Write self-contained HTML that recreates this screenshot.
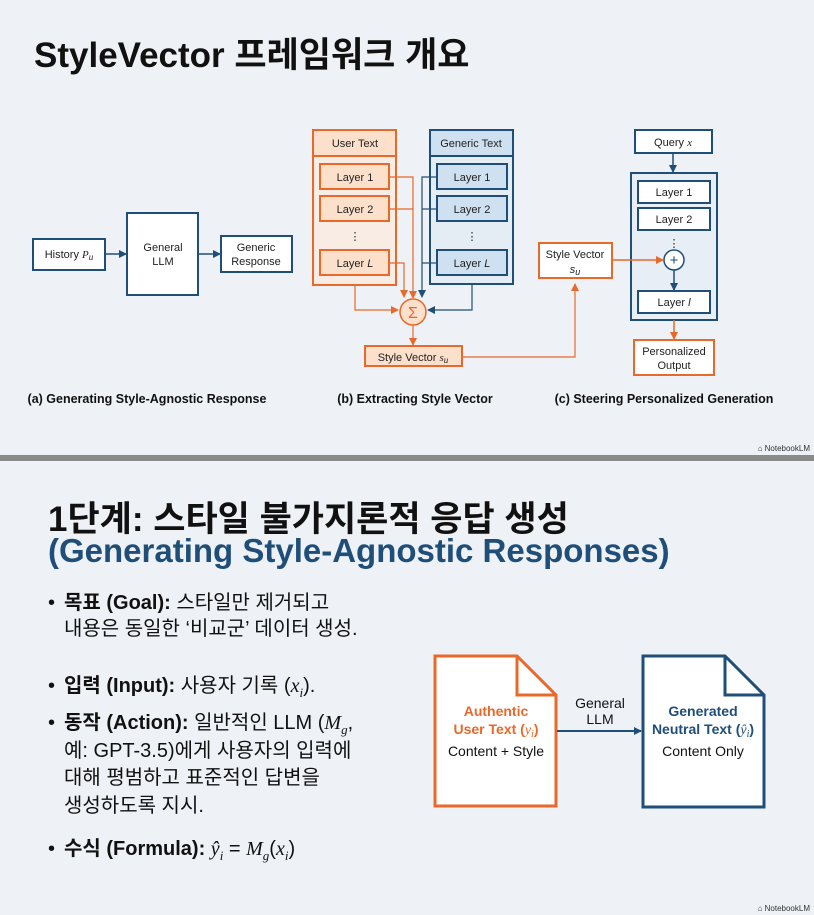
<!DOCTYPE html>
<html><head><meta charset="utf-8"><style>
body{margin:0;width:814px;height:915px;background:#eef2f6;overflow:hidden;font-family:"Liberation Sans","Noto Sans CJK KR",sans-serif;position:relative}
.t{position:absolute;white-space:nowrap}
svg text{font-family:"Liberation Sans","Noto Sans CJK KR",sans-serif}
i{font-family:"Liberation Serif",serif}
sub{line-height:0;font-size:0.65em}
.b{position:absolute;white-space:nowrap;padding-left:16px}
.b:before{content:"•";position:absolute;left:0}
</style></head><body>
<div class="t" style="left:34px;top:27px;font-size:35px;font-weight:bold;color:#111">StyleVector 프레임워크 개요</div>
<svg width="814" height="915" style="position:absolute;left:0;top:0">
<defs>
<marker id="ab" markerWidth="8" markerHeight="8" refX="7" refY="4" orient="auto" markerUnits="userSpaceOnUse"><path d="M0,0L8,4L0,8z" fill="#1f4e79"/></marker>
<marker id="ao" markerWidth="8" markerHeight="8" refX="7" refY="4" orient="auto" markerUnits="userSpaceOnUse"><path d="M0,0L8,4L0,8z" fill="#e8692a"/></marker>
</defs>
<g font-size="11" fill="#222" text-anchor="middle">
<rect x="33" y="239" width="72" height="31" fill="#fff" stroke="#1f4e79" stroke-width="2"/>
<text x="69" y="258">History <tspan font-style="italic" font-family="Liberation Serif">P<tspan font-size="9" dy="2">u</tspan></tspan></text>
<line x1="105" y1="254" x2="126" y2="254" stroke="#1f4e79" stroke-width="1.5" marker-end="url(#ab)"/>
<rect x="127" y="213" width="71" height="82" fill="#fff" stroke="#1f4e79" stroke-width="2"/>
<text x="163" y="251">General</text><text x="163" y="265">LLM</text>
<line x1="198" y1="254" x2="220" y2="254" stroke="#1f4e79" stroke-width="1.5" marker-end="url(#ab)"/>
<rect x="221" y="236" width="71" height="36" fill="#fff" stroke="#1f4e79" stroke-width="2"/>
<text x="256" y="251">Generic</text><text x="256" y="265">Response</text>
<rect x="313" y="130" width="83" height="155" fill="#f8ece4" stroke="#e8692a" stroke-width="2"/>
<rect x="313" y="130" width="83" height="26" fill="#fde0cc" stroke="#e8692a" stroke-width="2"/>
<text x="355" y="147">User Text</text>
<rect x="320" y="164" width="69" height="25" fill="#fde0cc" stroke="#e8692a" stroke-width="2"/><text x="355" y="181">Layer 1</text>
<rect x="320" y="196" width="69" height="25" fill="#fde0cc" stroke="#e8692a" stroke-width="2"/><text x="355" y="213">Layer 2</text>
<text x="355" y="240">⋮</text>
<rect x="320" y="250" width="69" height="25" fill="#fde0cc" stroke="#e8692a" stroke-width="2"/><text x="355" y="267">Layer <tspan font-style="italic">L</tspan></text>
<rect x="430" y="130" width="83" height="154" fill="#e4ecf4" stroke="#1f4e79" stroke-width="2"/>
<rect x="430" y="130" width="83" height="26" fill="#cfe0f0" stroke="#1f4e79" stroke-width="2"/>
<text x="471" y="147">Generic Text</text>
<rect x="437" y="164" width="70" height="25" fill="#cfe0f0" stroke="#1f4e79" stroke-width="2"/><text x="472" y="181">Layer 1</text>
<rect x="437" y="196" width="70" height="25" fill="#cfe0f0" stroke="#1f4e79" stroke-width="2"/><text x="472" y="213">Layer 2</text>
<text x="472" y="240">⋮</text>
<rect x="437" y="250" width="70" height="25" fill="#cfe0f0" stroke="#1f4e79" stroke-width="2"/><text x="472" y="267">Layer <tspan font-style="italic">L</tspan></text>
<g fill="none" stroke="#e8692a" stroke-width="1.2">
<path d="M389,177H413V298" marker-end="url(#ao)"/>
<path d="M389,209H413"/>
<path d="M389,263H404V297" marker-end="url(#ao)"/>
<path d="M355,285V310H398" marker-end="url(#ao)"/>
<path d="M413,325V345" marker-end="url(#ao)"/>
<path d="M462,357H575V284" marker-end="url(#ao)"/>
</g>
<g fill="none" stroke="#1f4e79" stroke-width="1.2">
<path d="M437,177H422V297" marker-end="url(#ab)"/>
<path d="M437,209H422"/><path d="M437,263H422"/>
<path d="M472,284V310H428" marker-end="url(#ab)"/>
</g>
<circle cx="413" cy="312" r="13" fill="#fde0cc" stroke="#e8692a" stroke-width="1.5"/>
<text x="413" y="318" font-size="16" fill="#e8692a">Σ</text>
<rect x="365" y="346" width="97" height="20" fill="#fde0cc" stroke="#e8692a" stroke-width="2"/>
<text x="413" y="361">Style Vector <tspan font-style="italic" font-family="Liberation Serif">s<tspan font-size="9" dy="2">u</tspan></tspan></text>
<rect x="635" y="130" width="77" height="23" fill="#fff" stroke="#1f4e79" stroke-width="2"/>
<text x="673" y="146">Query <tspan font-style="italic" font-family="Liberation Serif">x</tspan></text>
<line x1="673" y1="153" x2="673" y2="172" stroke="#1f4e79" stroke-width="1.5" marker-end="url(#ab)"/>
<rect x="631" y="173" width="86" height="147" fill="#e8eef5" stroke="#1f4e79" stroke-width="2"/>
<rect x="638" y="181" width="72" height="22" fill="#fff" stroke="#1f4e79" stroke-width="2"/><text x="674" y="196">Layer 1</text>
<rect x="638" y="208" width="72" height="22" fill="#fff" stroke="#1f4e79" stroke-width="2"/><text x="674" y="223">Layer 2</text>
<text x="674" y="247">⋮</text>
<circle cx="674" cy="260" r="10" fill="#fff" stroke="#1f4e79" stroke-width="1.5"/>
<text x="674" y="265" font-size="15" fill="#1f4e79">+</text>
<line x1="674" y1="270" x2="674" y2="290" stroke="#1f4e79" stroke-width="1.5" marker-end="url(#ab)"/>
<rect x="638" y="291" width="72" height="22" fill="#fff" stroke="#1f4e79" stroke-width="2"/><text x="674" y="306">Layer <tspan font-style="italic">l</tspan></text>
<rect x="539" y="243" width="73" height="35" fill="#fff" stroke="#e8692a" stroke-width="2"/>
<text x="575" y="258">Style Vector</text>
<text x="575" y="273" font-style="italic" font-family="Liberation Serif">s<tspan font-size="9" dy="2">u</tspan></text>
<line x1="612" y1="260" x2="663" y2="260" stroke="#e8692a" stroke-width="1.5" marker-end="url(#ao)"/>
<line x1="674" y1="320" x2="674" y2="339" stroke="#e8692a" stroke-width="1.5" marker-end="url(#ao)"/>
<rect x="634" y="340" width="80" height="35" fill="#fff" stroke="#e8692a" stroke-width="2"/>
<text x="674" y="355">Personalized</text><text x="674" y="369">Output</text>
</g>
<g font-size="12.5" font-weight="bold" fill="#111" text-anchor="middle">
<text x="147" y="403">(a) Generating Style-Agnostic Response</text>
<text x="415" y="403">(b) Extracting Style Vector</text>
<text x="664" y="403">(c) Steering Personalized Generation</text>
</g>
<text x="810" y="451" font-size="8" fill="#333" text-anchor="end">⌂ NotebookLM</text>
<rect x="0" y="455" width="814" height="6" fill="#8a8a8a"/>
<text x="810" y="911" font-size="8" fill="#333" text-anchor="end">⌂ NotebookLM</text>
<path d="M435,656H517L556,695V806H435Z" fill="#fff" stroke="#e8692a" stroke-width="3"/>
<path d="M517,656V695H556" fill="none" stroke="#e8692a" stroke-width="3"/>
<path d="M643,656H725L764,695V807H643Z" fill="#fff" stroke="#1f4e79" stroke-width="3"/>
<path d="M725,656V695H764" fill="none" stroke="#1f4e79" stroke-width="3"/>
<line x1="557" y1="731" x2="641" y2="731" stroke="#1f4e79" stroke-width="2" marker-end="url(#ab)"/>
<g text-anchor="middle" font-size="14">
<text x="600" y="708" fill="#111">General</text><text x="600" y="724" fill="#111">LLM</text>
<text x="496" y="716" fill="#e8692a" font-weight="bold">Authentic</text>
<text x="496" y="734" fill="#e8692a" font-weight="bold">User Text (<tspan font-style="italic" font-family="Liberation Serif" font-weight="normal">y<tspan font-size="10" dy="3">i</tspan></tspan><tspan dy="-3">)</tspan></text>
<text x="496" y="756" fill="#111">Content + Style</text>
<text x="703" y="716" fill="#1f4e79" font-weight="bold">Generated</text>
<text x="703" y="734" fill="#1f4e79" font-weight="bold">Neutral Text (<tspan font-style="italic" font-family="Liberation Serif" font-weight="normal">ŷ<tspan font-size="10" dy="3">i</tspan></tspan><tspan dy="-3">)</tspan></text>
<text x="703" y="756" fill="#111">Content Only</text>
</g>
</svg>
<div class="t" style="left:48px;top:491px;font-size:35px;font-weight:bold;color:#111">1단계: 스타일 불가지론적 응답 생성</div>
<div class="t" style="left:48px;top:532px;font-size:33px;font-weight:bold;color:#1f4e79">(Generating Style-Agnostic Responses)</div>
<div style="position:absolute;left:48px;top:590px;font-size:20px;color:#111;line-height:26px">
<div class="b" style="top:0">
<b>목표 (Goal):</b> 스타일만 제거되고<br>내용은 동일한 ‘비교군’ 데이터 생성.</div>
<div class="b" style="top:83px"><b>입력 (Input):</b> 사용자 기록 (<i>x<sub>i</sub></i>).</div>
<div class="b" style="top:120px;line-height:27.5px"><b>동작 (Action):</b> 일반적인 LLM (<i>M<sub>g</sub></i>,<br>예: GPT-3.5)에게 사용자의 입력에<br>대해 평범하고 표준적인 답변을<br>생성하도록 지시.</div>
<div class="b" style="top:246px"><b>수식 (Formula):</b> <i>ŷ<sub>i</sub></i> = <i>M<sub>g</sub></i>(<i>x<sub>i</sub></i>)</div>
</div>
</body></html>
